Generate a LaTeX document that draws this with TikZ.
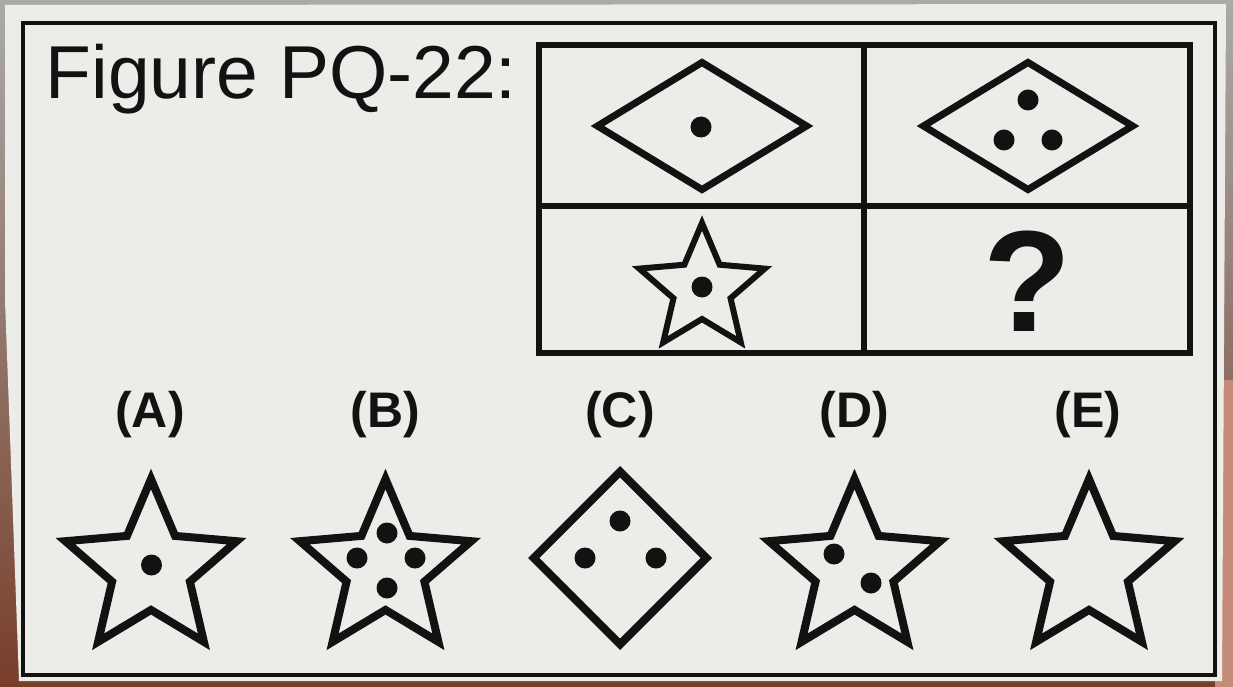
\documentclass[tikz,border=0pt]{standalone}
\usepackage{fontspec}
\setmainfont{Liberation Sans}
\usetikzlibrary{shapes.geometric}
\definecolor{paper}{RGB}{236,236,233}
\definecolor{ink}{RGB}{18,18,18}
\definecolor{woodbrown}{RGB}{120,62,42}
\definecolor{skin}{RGB}{196,140,120}
\definecolor{topgrey}{RGB}{170,170,168}
\tikzset{
  dot/.style={circle, fill=ink, draw=none, minimum size=21pt, inner sep=0pt},
  bigstar/.style={star, star points=5, star point ratio=2.2, minimum size=180pt, inner sep=0pt, draw=ink, line width=8pt},
  smallstar/.style={star, star points=5, star point ratio=2.2, minimum size=132pt, inner sep=0pt, draw=ink, line width=6pt},
  widediamond/.style={diamond, minimum width=212pt, minimum height=130pt, inner sep=0pt, draw=ink, line width=7pt},
  squarediamond/.style={diamond, minimum width=176pt, minimum height=176pt, inner sep=0pt, draw=ink, line width=8pt},
  gridline/.style={draw=ink, line width=6pt},
  borderline/.style={draw=ink, line width=4pt},
  optlabel/.style={anchor=base, font=\fontsize{50pt}{58pt}\selectfont\bfseries, text=ink, inner sep=0pt},
}
\begin{document}
\begin{tikzpicture}[x=1pt,y=-1pt]
\useasboundingbox (0,0) rectangle (1233,687);
% surroundings
\shade[top color=topgrey, bottom color=woodbrown] (0,0) rectangle (1233,687);
\fill[skin] (1215,380) rectangle (1233,687);
\fill[topgrey] (0,0) rectangle (1233,4);
% card
\fill[paper] (5,5) -- (1226,4) -- (1222,681) -- (19,681) -- (5,300) -- cycle;
\draw[borderline] (23.3,23.3) rectangle (1214.7,675);
% title
\node[anchor=base west, font=\fontsize{75pt}{90pt}\selectfont, text=ink, inner sep=0pt] (title) at (45.5,98.3) {Figure PQ-22:};
% grid
\draw[gridline] (539,45) rectangle (1190,353);
\draw[gridline] (864,45) -- (864,353);
\draw[gridline] (539,206) -- (1190,206);
% top-left cell
\node[widediamond] (d1) at (702,126) {};
\node[dot] (d1a) at (701,127) {};
% top-right cell
\node[widediamond] (d2) at (1028,126) {};
\node[dot] (d2a) at (1028,100) {};
\node[dot] (d2b) at (1004,140) {};
\node[dot] (d2c) at (1052,140) {};
% bottom-left cell
\node[smallstar] (s1) at (702,289) {};
\node[dot] (s1a) at (702,287) {};
% bottom-right cell
\node[anchor=base, font=\fontsize{144pt}{160pt}\selectfont\bfseries, text=ink, inner sep=0pt] (qmark) at (1027,331.7) {?};
% option labels
\node[optlabel] (labA) at (150,427) {(A)};
\node[optlabel] (labB) at (385.5,427) {(B)};
\node[optlabel] (labC) at (620,427) {(C)};
\node[optlabel] (labD) at (854.5,427) {(D)};
\node[optlabel] (labE) at (1088,427) {(E)};
% option A
\node[bigstar] (optA) at (151,569) {};
\node[dot] (optAa) at (151.5,565) {};
% option B
\node[bigstar] (optB) at (385.5,569) {};
\node[dot] (optBa) at (387,533) {};
\node[dot] (optBb) at (357,558) {};
\node[dot] (optBc) at (415,558) {};
\node[dot] (optBd) at (387,588) {};
% option C
\node[squarediamond] (optC) at (620,558) {};
\node[dot] (optCa) at (620,521) {};
\node[dot] (optCb) at (585,558) {};
\node[dot] (optCc) at (656,558) {};
% option D
\node[bigstar] (optD) at (854.5,569) {};
\node[dot] (optDa) at (834,554) {};
\node[dot] (optDb) at (871,583) {};
% option E
\node[bigstar] (optE) at (1089,569) {};
\end{tikzpicture}
\end{document}
